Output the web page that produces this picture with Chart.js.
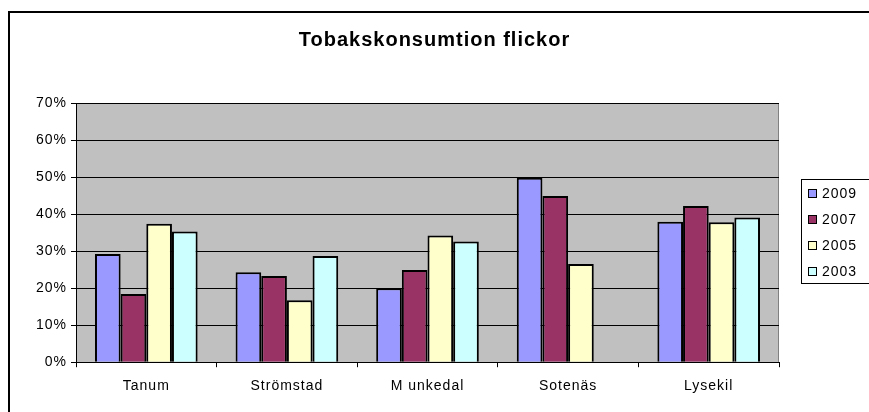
<!DOCTYPE html>
<html>
<head>
<meta charset="utf-8">
<script src="https://cdn.jsdelivr.net/npm/chart.js@4/dist/chart.umd.min.js"></script>
<style>
  html, body { margin: 0; padding: 0; background: #fff; }
  #wrap { width: 869px; height: 412px; position: relative; }
</style>
</head>
<body>
<div id="wrap"><canvas id="chart" width="869" height="412"></canvas></div>
<script>
const kommuner = ['Tanum', 'Strömstad', 'M unkedal', 'Sotenäs', 'Lysekil'];
const years = ['2009', '2007', '2005', '2003'];
const v2009 = [29.2, 24.3, 20.0, 49.8, 37.9];
const v2007 = [18.4, 23.3, 24.9, 44.9, 42.2];
const v2005 = [37.4, 16.7, 34.2, 26.5, 37.8];
const v2003 = [35.3, 28.7, 32.6, null, 39.1];
const yTicks = [0, 10, 20, 30, 40, 50, 60, 70];

const colors = ['#9999FF', '#993366', '#FFFFCC', '#CCFFFF'];
const font = 'Arial, "Liberation Sans", sans-serif';

const canvas = document.getElementById('chart');

// the old excel look has loosely spaced letters
const spacing = {
  id: 'spacing',
  beforeLayout(chart) { chart.ctx.letterSpacing = '1px'; },
  beforeDraw(chart) { chart.ctx.letterSpacing = '1px'; }
};

// grey plot area + outer frame
const backdrop = {
  id: 'backdrop',
  beforeDraw(chart) {
    const ctx = chart.ctx, a = chart.chartArea;
    ctx.save();
    ctx.strokeStyle = '#000';
    ctx.lineWidth = 2;
    ctx.strokeRect(9, 12, 900, 500);
    ctx.fillStyle = '#C0C0C0';
    ctx.fillRect(a.left, a.top, a.right - a.left, a.bottom - a.top);
    ctx.strokeStyle = '#808080';
    ctx.lineWidth = 1;
    ctx.beginPath();
    ctx.moveTo(a.left, a.top + 0.5);
    ctx.lineTo(a.right - 0.5, a.top + 0.5);
    ctx.lineTo(a.right - 0.5, a.bottom);
    ctx.stroke();
    ctx.restore();
  }
};

// boxed legend on the right
const boxLegend = {
  id: 'boxLegend',
  afterDraw(chart) {
    const ctx = chart.ctx;
    const x = 801, y = 179, w = 68, h = 104;
    ctx.save();
    ctx.fillStyle = '#fff';
    ctx.fillRect(x, y, w, h);
    ctx.strokeStyle = '#000';
    ctx.lineWidth = 1;
    ctx.strokeRect(x + 0.5, y + 0.5, w, h);
    ctx.font = '14px ' + font;
    ctx.textBaseline = 'middle';
    chart.data.datasets.forEach((ds, i) => {
      const cy = 193 + i * 26;
      ctx.fillStyle = ds.backgroundColor;
      ctx.fillRect(x + 7, cy - 4, 8, 8);
      ctx.strokeRect(x + 7.5, cy - 3.5, 8, 8);
      ctx.fillStyle = '#000';
      ctx.fillText(ds.label, x + 21, cy + 1);
    });
    ctx.restore();
  }
};

const series = [v2009, v2007, v2005, v2003];

new Chart(canvas, {
  type: 'bar',
  data: {
    labels: kommuner,
    datasets: years.map((y, i) => ({
      label: y,
      data: series[i],
      backgroundColor: colors[i],
      borderColor: '#000',
      borderWidth: 2,
      barPercentage: 1,
      categoryPercentage: 0.73
    }))
  },
  options: {
    responsive: false,
    animation: false,
    layout: { padding: { left: 0, right: 0, top: 0, bottom: 6 } },
    plugins: {
      legend: { display: false },
      tooltip: { enabled: false },
      title: {
        display: true,
        text: 'Tobakskonsumtion flickor',
        color: '#000',
        font: { family: font, size: 20, weight: 'bold' },
        padding: { top: 28, bottom: 51 }
      }
    },
    scales: {
      x: {
        grid: { display: true, drawOnChartArea: false, color: '#000', tickLength: 5, offset: true },
        border: { color: '#000', width: 1 },
        ticks: { color: '#000', font: { family: font, size: 14 }, padding: 11 }
      },
      y: {
        min: 0,
        max: 70,
        afterBuildTicks(axis) { axis.ticks = yTicks.map(v => ({ value: v })); },
        afterFit(axis) { axis.width = 76; },
        grid: { color: '#000', lineWidth: 1, tickLength: 5 },
        border: { color: '#000', width: 1 },
        ticks: {
          color: '#000',
          font: { family: font, size: 14 },
          padding: 4,
          callback: v => v + '%'
        }
      },
      // empty strip on the right that leaves room for the legend box
      legendRoom: {
        position: 'right',
        grid: { display: false },
        border: { display: false },
        ticks: { display: false },
        afterFit(axis) { axis.width = 90; }
      }
    }
  },
  plugins: [spacing, backdrop, boxLegend]
});
</script>
</body>
</html>
